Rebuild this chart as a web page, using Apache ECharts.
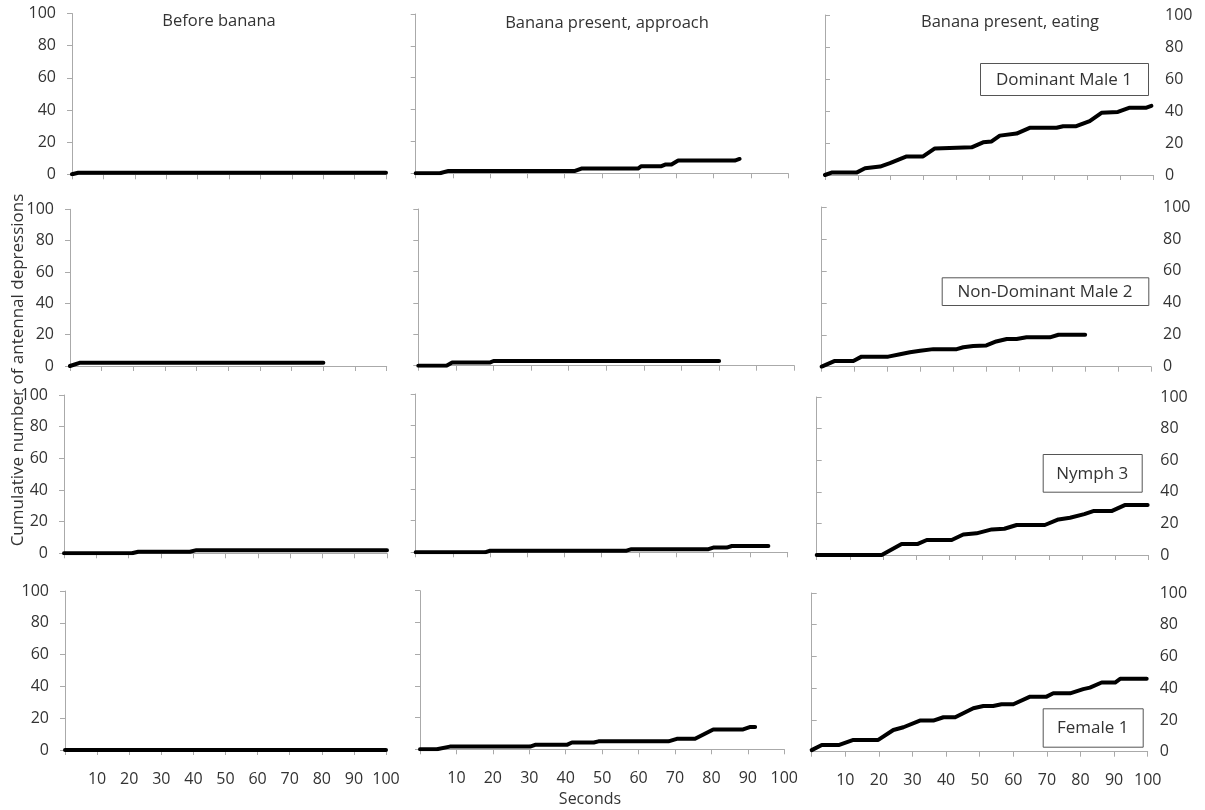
<!DOCTYPE html>
<html>
<head>
<meta charset="utf-8">
<script src="https://cdn.jsdelivr.net/npm/echarts@6/dist/echarts.min.js"></script>
<style>
html,body{margin:0;padding:0;background:#fff;}
#chart{width:1205px;height:810px;}
</style>
</head>
<body>
<div id="chart"></div>
<script>
// ---------- data ----------
const columnTitles = ['Before banana', 'Banana present, approach', 'Banana present, eating'];
const subjects = ['Dominant Male 1', 'Non-Dominant Male 2', 'Nymph 3', 'Female 1'];
const xTickValues = [0, 10, 20, 30, 40, 50, 60, 70, 80, 90, 100];
const yTickValues = [0, 20, 40, 60, 80, 100];
const xAxisName = 'Seconds';
const yAxisName = 'Cumulative number of antennal depressions';

// [seconds, cumulative count]
const beforeDM1 = [[0,0],[2,1],[100,1]];
const beforeNDM2 = [[0,0],[3,2],[80,2]];
const beforeN3 = [[0,0],[21,0],[23,1],[39,1],[41,2],[100,2]];
const beforeF1 = [[0,0],[100,0]];

const approachDM1 = [[0,0],[6.5,0],[8.8,1.5],[42.8,1.5],[44.5,3],[59.7,3],[60.6,4.5],[66,4.5],[67,5.5],[68.7,5.5],[70.5,8],[85.7,8],[87,9]];
const approachNDM2 = [[0,0],[7.5,0],[9,2],[19,2],[20,3],[80,3]];
const approachN3 = [[0,0],[18.6,0],[20,1],[56.7,1],[58,2],[78.7,2],[80,3],[83.6,3],[85,4],[94.8,4]];
const approachF1 = [[0,0],[4.6,0],[8.2,1.7],[30.2,1.7],[31.6,2.8],[40.3,2.8],[41.7,4.3],[47.7,4.3],[49,5],[68.2,5],[70.5,6.6],[75.5,6.6],[80.5,12.5],[88.7,12.5],[90.5,14],[92,14]];

const eatingDM1 = [[0,0],[2,1.5],[9.6,1.5],[12.2,4.2],[16.8,5.3],[19.8,7.4],[24.9,11.6],[29.9,11.6],[33.5,16.6],[44.7,17.3],[48.2,20.4],[50.8,21],[53.3,24.6],[58.4,25.9],[62.4,29.5],[70.6,29.5],[72.6,30.5],[76.6,30.5],[80.7,33.7],[84.3,38.9],[89.3,39.4],[92.9,42.1],[98,42.1],[99.5,43.2]];
const eatingNDM2 = [[0,0],[4,3.6],[9.6,3.6],[12.1,6.3],[20.2,6.3],[23.8,7.8],[26.8,9],[29.9,10],[33.9,11],[41,11],[43,12.2],[46,13],[50,13.3],[53,15.8],[56.2,17.3],[59.2,17.3],[62.2,18.4],[69.3,18.4],[71.9,20],[80,20]];
const eatingN3 = [[0,0],[19.6,0],[25.6,7],[30.5,7],[33.2,9.5],[40.7,9.5],[44.2,13],[48.2,13.7],[52.8,16.2],[56.6,16.6],[60.3,19],[68.8,19],[72.9,22.5],[76.4,23.6],[80.7,25.9],[83.4,27.8],[88.9,27.8],[92.9,31.6],[99.8,31.6]];
const eatingF1 = [[0,1],[3,4.2],[8,4.2],[12.4,7.4],[19.8,7.4],[24.3,13.7],[27.3,15.4],[32.2,19.6],[36.2,19.6],[39.2,21.7],[42.7,21.7],[48.1,27.4],[51.1,28.8],[54,28.8],[56.5,29.9],[60,29.9],[65,34.7],[69.9,34.7],[71.9,36.8],[76.9,36.8],[80.8,39.4],[82.8,40.4],[86.3,43.6],[90.3,43.6],[91.8,45.9],[99.7,45.9]];

const panelData = [
  [beforeDM1, approachDM1, eatingDM1],
  [beforeNDM2, approachNDM2, eatingNDM2],
  [beforeN3, approachN3, eatingN3],
  [beforeF1, approachF1, eatingF1]
];

// ---------- layout (pixels: left, top, right, bottom of each plot) ----------
const panelBoxes = [
  [[72,13.5,386,174.3],[415.7,14,788,173.3],[825,15,1153,175]],
  [[70,209.3,386.7,366],[418.3,209,794.3,365.7],[821.7,207,1151,366.7]],
  [[64,395,387,553.3],[415.7,394,787.7,552.3],[816.7,397,1148.3,555]],
  [[65,591,386,750],[420,590.7,784.3,749.3],[811.7,593,1147.7,751.7]]
];
const labelBoxes = [
  [980,63,1148,95],
  [941.7,277.3,1148.3,305],
  [1042.7,454,1141.7,491.7],
  [1042.7,708.3,1142.7,746.7]
];

const FONT = '"Open Sans", Lato, sans-serif';
const AXIS_COLOR = '#aaaaaa';
const TEXT_COLOR = '#333333';

const grids = [], xAxes = [], yAxes = [], series = [];
panelBoxes.forEach((row, r) => {
  row.forEach((b, c) => {
    const idx = grids.length;
    grids.push({left: b[0], top: b[1], width: b[2]-b[0], height: b[3]-b[1], outerBoundsMode: 'none', containLabel: false});
    xAxes.push({
      type: 'value', gridIndex: idx, min: xTickValues[0], max: xTickValues[xTickValues.length-1], interval: 10,
      axisLine: {show: true, onZero: false, lineStyle: {color: AXIS_COLOR, width: 1}},
      axisTick: {show: true, length: 5, lineStyle: {color: AXIS_COLOR}},
      splitLine: {show: false},
      axisLabel: {show: r === 3, margin: 21, color: TEXT_COLOR, fontFamily: FONT, fontSize: 16,
        formatter: v => v === 0 ? '' : String(v), showMinLabel: true, showMaxLabel: true}
    });
    yAxes.push({
      type: 'value', gridIndex: idx, min: yTickValues[0], max: yTickValues[yTickValues.length-1], interval: 20,
      position: c === 2 ? 'right' : 'left',
      axisLine: {show: true, lineStyle: {color: AXIS_COLOR, width: 1}},
      axisTick: {show: true, length: 5, lineStyle: {color: AXIS_COLOR}},
      splitLine: {show: false},
      axisLabel: {show: c !== 1, margin: c === 2 ? 12 : 16, color: TEXT_COLOR, fontFamily: FONT, fontSize: 16}
    });
    series.push({
      type: 'line', name: subjects[r] + ' - ' + columnTitles[c],
      xAxisIndex: idx, yAxisIndex: idx,
      data: panelData[r][c], showSymbol: false, symbol: 'none', smooth: false,
      lineStyle: {color: '#000', width: 4, cap: 'round', join: 'round'},
      silent: true, animation: false
    });
  });
});

const graphics = [];
const titleX = [219, 607, 1010];
const titleY = [21, 23, 22];
columnTitles.forEach((t, i) => {
  graphics.push({type: 'text', x: titleX[i], y: titleY[i], style: {text: t, fill: TEXT_COLOR, font: '16.5px ' + FONT, textAlign: 'center', textVerticalAlign: 'middle'}});
});
graphics.push({type: 'text', x: 590, y: 799, style: {text: xAxisName, fill: TEXT_COLOR, font: '16px ' + FONT, textAlign: 'center', textVerticalAlign: 'middle'}});
graphics.push({type: 'text', x: 18, y: 370, rotation: Math.PI/2, style: {text: yAxisName, fill: TEXT_COLOR, font: '17px ' + FONT, textAlign: 'center', textVerticalAlign: 'middle'}});
labelBoxes.forEach((b, i) => {
  graphics.push({type: 'rect', shape: {x: b[0]+0.5, y: b[1]+0.5, width: b[2]-b[0], height: b[3]-b[1]}, style: {fill: '#fff', stroke: '#555', lineWidth: 1}, z: 10});
  graphics.push({type: 'text', x: (b[0]+b[2])/2, y: (b[1]+b[3])/2 + 1, z: 11, style: {text: subjects[i], fill: TEXT_COLOR, font: '17px ' + FONT, textAlign: 'center', textVerticalAlign: 'middle'}});
});

const chart = echarts.init(document.getElementById('chart'), null, {renderer: 'canvas'});
chart.setOption({
  animation: false,
  backgroundColor: '#fff',
  grid: grids, xAxis: xAxes, yAxis: yAxes, series: series,
  graphic: graphics
});
</script>
</body>
</html>
